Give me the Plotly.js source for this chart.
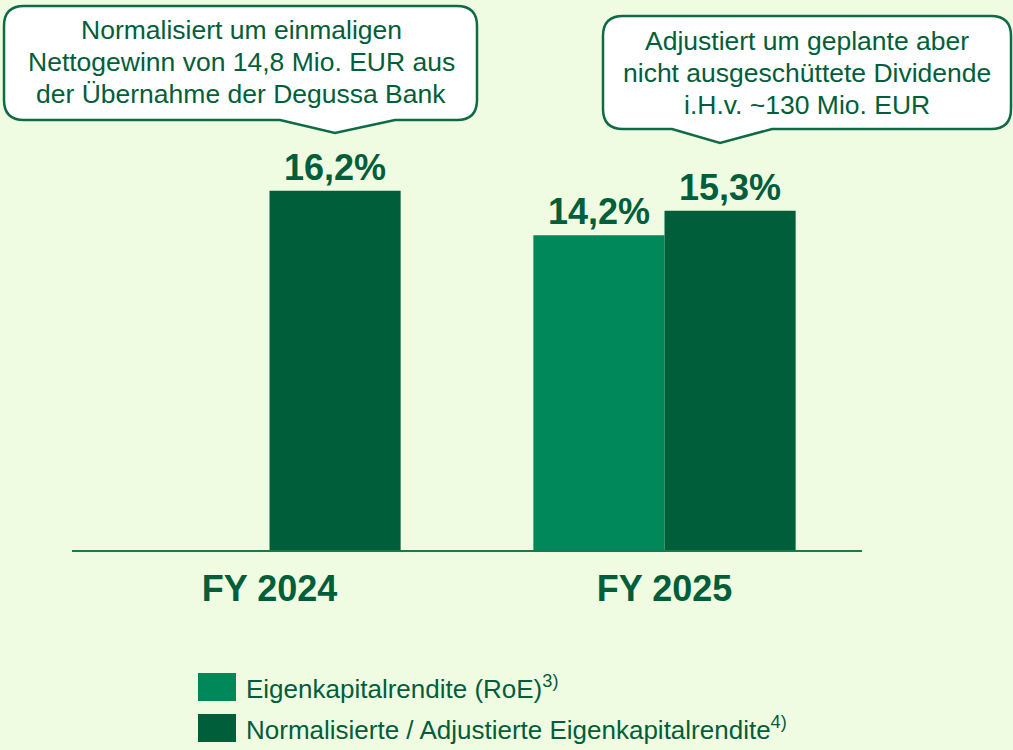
<!DOCTYPE html>
<html>
<head>
<meta charset="utf-8">
<script src="https://cdn.plot.ly/plotly-3.0.1.min.js"></script>
<style>
html,body{margin:0;padding:0;background:#F0FCE1;}
#chart{width:1013px;height:750px;}
</style>
</head>
<body>
<div id="chart"></div>
<script>
// ---- data ----
const categories = ['FY 2024', 'FY 2025'];
const roeName = 'Eigenkapitalrendite (RoE)';
const roeSup = '3)';
const roeValues = [null, 14.2];
const normName = 'Normalisierte / Adjustierte Eigenkapitalrendite';
const normSup = '4)';
const normValues = [16.2, 15.3];
const callout1Lines = ['Normalisiert um einmaligen', 'Nettogewinn von 14,8 Mio. EUR aus', 'der Übernahme der Degussa Bank'];
const callout2Lines = ['Adjustiert um geplante aber', 'nicht ausgeschüttete Dividende', 'i.H.v. ~130 Mio. EUR'];

// ---- style ----
const BG = '#F0FCE1';
const LIGHT = '#00875A';
const DARK = '#005E3A';
const TXT = '#005E3A';
const FONT = 'Arial, "Liberation Sans", sans-serif';
const W = 1013, H = 750;
const M = {l: 72, r: 151, t: 150, b: 200};
const PW = W - M.l - M.r, PH = H - M.t - M.b;
const px = x => (x - M.l) / PW;
const py = y => (H - M.b - y) / PH;

function fmt(v) { return v == null ? '' : v.toFixed(1).replace('.', ',') + '%'; }
function tpos(v) { return v == null ? 'none' : 'outside'; }

function calloutPath(l, t, r, b, rad, pl, tipx, tipy, pr) {
  const P = (x, y) => px(x) + ',' + py(y);
  return 'M' + P(l + rad, t) +
    ' L' + P(r - rad, t) + ' Q' + P(r, t) + ' ' + P(r, t + rad) +
    ' L' + P(r, b - rad) + ' Q' + P(r, b) + ' ' + P(r - rad, b) +
    ' L' + P(pr, b) + ' L' + P(tipx, tipy) + ' L' + P(pl, b) +
    ' L' + P(l + rad, b) + ' Q' + P(l, b) + ' ' + P(l, b - rad) +
    ' L' + P(l, t + rad) + ' Q' + P(l, t) + ' ' + P(l + rad, t) + ' Z';
}

const traces = [
  {type: 'bar', name: roeName, x: categories, y: roeValues, marker: {color: LIGHT},
   text: roeValues.map(fmt), textposition: roeValues.map(tpos), cliponaxis: false,
   textfont: {family: FONT, size: 36, color: TXT, weight: 'bold'}, showlegend: false},
  {type: 'bar', name: normName, x: categories, y: normValues, marker: {color: DARK},
   text: normValues.map(fmt), textposition: normValues.map(tpos), cliponaxis: false,
   textfont: {family: FONT, size: 36, color: TXT, weight: 'bold'}, showlegend: false}
];

const shapes = [
  {type: 'path', xref: 'paper', yref: 'paper', path: calloutPath(4, 6, 477, 120, 20, 280, 335, 133, 395),
   fillcolor: '#FFFFFF', line: {color: '#0F6B45', width: 2.5}},
  {type: 'path', xref: 'paper', yref: 'paper', path: calloutPath(603, 16, 1011, 129, 20, 672, 720, 143, 772),
   fillcolor: '#FFFFFF', line: {color: '#0F6B45', width: 2.5}},
  {type: 'rect', xref: 'paper', yref: 'paper', x0: px(198), x1: px(236), y0: py(673), y1: py(701),
   fillcolor: LIGHT, line: {width: 0}},
  {type: 'rect', xref: 'paper', yref: 'paper', x0: px(198), x1: px(236), y0: py(714), y1: py(742),
   fillcolor: DARK, line: {width: 0}}
];

const annotations = [];
const c1y = [30, 62, 94], c2y = [41, 73, 105];
const CF = 26.5;
callout1Lines.forEach((s, i) => annotations.push({xref: 'paper', yref: 'paper', x: px(241), y: py(c1y[i]),
  xanchor: 'center', yanchor: 'middle', text: s, showarrow: false, font: {family: FONT, size: CF, color: TXT}}));
callout2Lines.forEach((s, i) => annotations.push({xref: 'paper', yref: 'paper', x: px(807), y: py(c2y[i]),
  xanchor: 'center', yanchor: 'middle', text: s, showarrow: false, font: {family: FONT, size: CF, color: TXT}}));
annotations.push({xref: 'paper', yref: 'paper', x: px(244), y: py(687), xanchor: 'left', yanchor: 'middle',
  text: roeName + '<sup>' + roeSup + '</sup>', showarrow: false, font: {family: FONT, size: 26, color: TXT}});
annotations.push({xref: 'paper', yref: 'paper', x: px(244), y: py(728), xanchor: 'left', yanchor: 'middle',
  text: normName + '<sup>' + normSup + '</sup>', showarrow: false, font: {family: FONT, size: 26, color: TXT}});

const layout = {
  width: W, height: H, margin: M,
  paper_bgcolor: BG, plot_bgcolor: BG,
  barmode: 'group', bargap: 0.336, bargroupgap: 0,
  showlegend: false,
  xaxis: {type: 'category', range: [-0.5, 1.5], showline: true, linecolor: '#1A7A4C', linewidth: 2,
    ticks: '', showgrid: false, zeroline: false, fixedrange: true,
    tickfont: {family: FONT, size: 36, color: TXT, weight: 'bold'}, ticklabelstandoff: 6},
  yaxis: {range: [0, PH / 22.17], visible: false, showgrid: false, zeroline: false, fixedrange: true},
  shapes: shapes, annotations: annotations,
  font: {family: FONT, color: TXT}
};

Plotly.newPlot('chart', traces, layout, {displayModeBar: false, staticPlot: true});
</script>
</body>
</html>
